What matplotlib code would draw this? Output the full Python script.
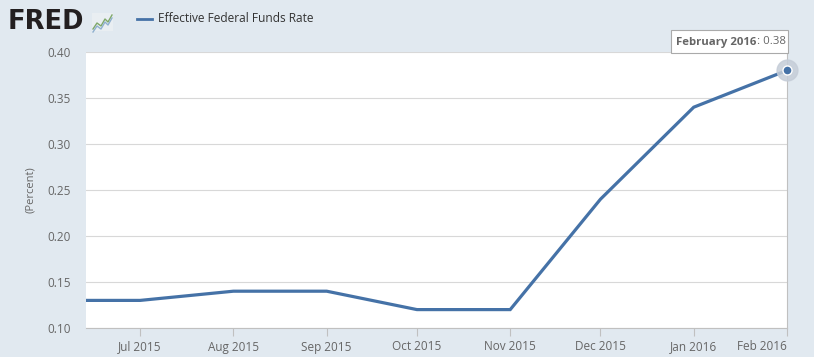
import matplotlib
matplotlib.use("Agg")
import matplotlib.pyplot as plt
from matplotlib.patches import FancyBboxPatch, Rectangle
from matplotlib.text import Annotation
import datetime as dt

dates = ["2015-06-01", "2015-07-01", "2015-08-01", "2015-09-01", "2015-10-01",
         "2015-11-01", "2015-12-01", "2016-01-01", "2016-02-01"]
values = [0.13, 0.13, 0.14, 0.14, 0.12, 0.12, 0.24, 0.34, 0.38]
tick_labels = ["Jul 2015", "Aug 2015", "Sep 2015", "Oct 2015", "Nov 2015",
               "Dec 2015", "Jan 2016", "Feb 2016"]
y_ticks = [0.10, 0.15, 0.20, 0.25, 0.30, 0.35, 0.40]
series_name = "Effective Federal Funds Rate"

plt.rcParams['font.family'] = ['Open Sans', 'DejaVu Sans']
x = [dt.datetime.strptime(d, "%Y-%m-%d") for d in dates]

bg = "#e1e9f0"
line_c = "#4572a7"
txt_c = "#666666"

fig = plt.figure(figsize=(8.14, 3.57), dpi=100, facecolor=bg)
ax = fig.add_axes([86/814, 29/357, 701/814, 276/357])
ax.set_facecolor("white")
ax.plot(x, values, color=line_c, lw=2.3, solid_joinstyle='miter', zorder=3, clip_on=True)

ax.set_xlim(dt.datetime(2015, 6, 13), dt.datetime(2016, 2, 1))
ax.set_ylim(0.10, 0.40)
ax.set_yticks(y_ticks)
ax.set_yticklabels([f"{v:.2f}" for v in y_ticks])
ax.set_xticks(x[1:])
ax.set_xticklabels(tick_labels)
ax.get_xticklabels()[-1].set_horizontalalignment('right')
ax.grid(axis='y', color="#d8d8d8", lw=0.8)
ax.set_axisbelow(True)
for s in ['top', 'left']:
    ax.spines[s].set_visible(False)
ax.spines['right'].set_color("#c0c0c0")
ax.spines['bottom'].set_color("#c0c0c0")
ax.tick_params(axis='y', length=0, pad=11, labelsize=8.5, labelcolor=txt_c)
ax.tick_params(axis='x', length=6, color="#c0c0c0", labelsize=8.5, labelcolor=txt_c, pad=3)
ax.set_ylabel("(Percent)", fontsize=8, color=txt_c, labelpad=8)

# end point marker with halo
ax.plot([x[-1]], [values[-1]], 'o', ms=15, color="#c5cdd8", alpha=0.85, zorder=4, clip_on=False)
ax.plot([x[-1]], [values[-1]], 'o', ms=6.5, color=line_c, mec="white", mew=1, zorder=5, clip_on=False)

# tooltip
fig.patches.append(FancyBboxPatch((671/814, (357-53)/357), 117/814, 23/357,
                                  boxstyle="square,pad=0", transform=fig.transFigure,
                                  facecolor="white", edgecolor="#aaaaaa", lw=0.8, zorder=10))
t1 = fig.text(676/814, (357-42)/357, "February 2016", fontsize=8.2, fontweight='bold', color=txt_c,
              va='center', ha='left', zorder=11)
ann = Annotation(": 0.38", xy=(1, 0.5), xycoords=t1, xytext=(0.5, 0), textcoords='offset points',
                 fontsize=8.2, color=txt_c, va='center', ha='left', annotation_clip=False)
ann.set_zorder(12)
fig.add_artist(ann)

# FRED logo
fig.text(8/814, (357-22)/357, "FRED", fontsize=18.5, fontweight='heavy', color="#231f20",
         va='center', ha='left', family=['DejaVu Sans'])
fig.patches.append(Rectangle((92/814, (357-31)/357), 21/814, 18/357, transform=fig.transFigure,
                             facecolor="#e9eef2", edgecolor="none", zorder=1))
lx = [93, 97, 101, 105, 108, 112]
ly = [29, 23, 26, 19, 22, 15]
fig.add_artist(plt.Line2D([v/814 for v in lx], [(357-v)/357 for v in ly], color="#7fa86a", lw=1,
                          transform=fig.transFigure))
fig.add_artist(plt.Line2D([v/814 for v in lx], [(357-v-3)/357 for v in ly], color="#8fb0cf", lw=1,
                          transform=fig.transFigure))

# legend
fig.add_artist(plt.Line2D([137/814, 152/814], [(357-19)/357]*2, color=line_c, lw=2,
                          transform=fig.transFigure))
fig.text(158/814, (357-19)/357, series_name, fontsize=8.6, color="#333333", va='center', ha='left')

fig.savefig("out.png", dpi=100, facecolor=bg)
